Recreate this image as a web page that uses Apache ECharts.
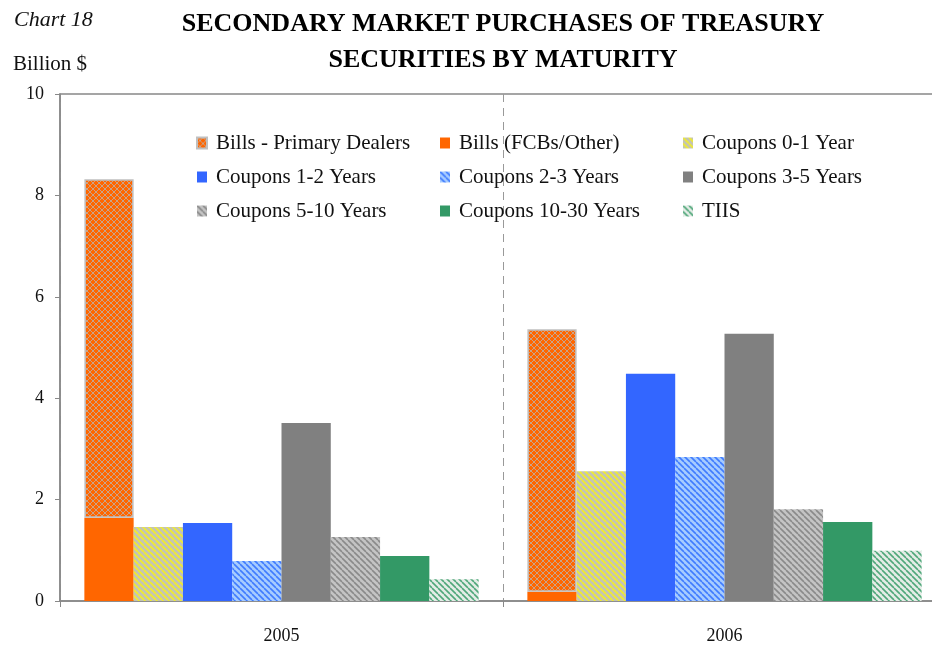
<!DOCTYPE html>
<html>
<head>
<meta charset="utf-8">
<script src="https://cdn.jsdelivr.net/npm/echarts@6/dist/echarts.min.js"></script>
<style>
  html, body { margin: 0; padding: 0; background: #fff; }
  #main { width: 932px; height: 648px; }
</style>
</head>
<body>
<div id="main"></div>
<script>
// categories and values (billion $)
const years = ['2005', '2006'];
const billsOther = [1.64, 0.18];
const billsDealers = [6.68, 5.18];
const coupons0to1 = [1.46, 2.56];
const coupons1to2 = [1.54, 4.48];
const coupons2to3 = [0.79, 2.84];
const coupons3to5 = [3.51, 5.27];
const coupons5to10 = [1.26, 1.81];
const coupons10to30 = [0.89, 1.56];
const tiis = [0.43, 0.99];

const FONT = '"Liberation Serif", "DejaVu Serif", serif';

// small repeating fills for the hatched bars
function stripes(bg, fg, size, lw) {
  const c = document.createElement('canvas');
  c.width = c.height = size;
  const ctx = c.getContext('2d');
  ctx.fillStyle = bg;
  ctx.fillRect(0, 0, size, size);
  ctx.strokeStyle = fg;
  ctx.lineWidth = lw;
  for (const o of [-size, 0, size]) {
    ctx.beginPath();
    ctx.moveTo(o, 0);
    ctx.lineTo(o + size, size);
    ctx.stroke();
  }
  return { image: c, repeat: 'repeat' };
}

function crossHatch(bg, fg, size) {
  const c = document.createElement('canvas');
  c.width = c.height = size;
  const ctx = c.getContext('2d');
  ctx.fillStyle = bg;
  ctx.fillRect(0, 0, size, size);
  ctx.strokeStyle = fg;
  ctx.lineWidth = 1;
  for (const o of [-size, 0, size]) {
    ctx.beginPath(); ctx.moveTo(o, 0); ctx.lineTo(o + size, size); ctx.stroke();
    ctx.beginPath(); ctx.moveTo(o, size); ctx.lineTo(o + size, 0); ctx.stroke();
  }
  return { image: c, repeat: 'repeat' };
}

const legendText = { fontFamily: FONT, fontSize: 21, color: '#111', lineHeight: 22, padding: [0, 0, 0, 4] };
function columnLegend(left, names) {
  return {
    left: left, top: 132, orient: 'vertical', padding: 0,
    itemWidth: 10, itemHeight: 11, itemGap: 12,
    icon: 'rect', selectedMode: false,
    textStyle: legendText, data: names
  };
}

var myChart = echarts.init(document.getElementById('main'));
myChart.setOption({
  animation: false,
  title: [
    {
      text: 'SECONDARY MARKET PURCHASES OF TREASURY\nSECURITIES BY MATURITY',
      left: 498, top: 1, textAlign: 'center',
      textStyle: { fontFamily: FONT, fontSize: 26, fontWeight: 'bold', color: '#000', lineHeight: 36 }
    },
    {
      text: 'Chart 18', left: 9, top: 4,
      textStyle: { fontFamily: FONT, fontSize: 22, fontStyle: 'italic', fontWeight: 'normal', color: '#111' }
    },
    {
      text: 'Billion $', left: 8, top: 49,
      textStyle: { fontFamily: FONT, fontSize: 21, fontWeight: 'normal', color: '#111' }
    }
  ],
  legend: [
    columnLegend(196, ['Bills - Primary Dealers', 'Coupons 1-2 Years', 'Coupons 5-10 Years']),
    columnLegend(440, ['Bills (FCBs/Other)', 'Coupons 2-3 Years', 'Coupons 10-30 Years']),
    columnLegend(683, ['Coupons 0-1 Year', 'Coupons 3-5 Years', 'TIIS'])
  ],
  grid: {
    left: 60, top: 94, bottom: 47, width: 886,
    outerBoundsMode: 'none',
    show: true, borderColor: '#888', borderWidth: 1.5
  },
  xAxis: {
    type: 'category',
    data: years,
    axisLine: { lineStyle: { color: '#888', width: 1.5 } },
    axisTick: { show: true, length: 6, lineStyle: { color: '#888' } },
    axisLabel: { fontFamily: FONT, fontSize: 18, color: '#111', margin: 26 },
    splitLine: { show: true, lineStyle: { color: '#999', type: [8, 6], width: 1 } }
  },
  yAxis: {
    type: 'value',
    min: 0, max: 10, interval: 2,
    axisLine: { show: true, lineStyle: { color: '#888', width: 1.5 } },
    axisTick: { show: true, length: 5, lineStyle: { color: '#888' } },
    axisLabel: { fontFamily: FONT, fontSize: 18, color: '#111', margin: 16 },
    splitLine: { show: false }
  },
  series: [
    {
      name: 'Bills (FCBs/Other)', type: 'bar', stack: 'bills', data: billsOther,
      barGap: 0, barCategoryGap: '11%',
      itemStyle: { color: '#FF6600' }
    },
    {
      name: 'Bills - Primary Dealers', type: 'bar', stack: 'bills', data: billsDealers,
      itemStyle: { color: crossHatch('#FF6600', '#c9a38a', 6), borderColor: '#c0c0c0', borderWidth: 1.5 }
    },
    {
      name: 'Coupons 0-1 Year', type: 'bar', data: coupons0to1,
      itemStyle: { color: stripes('#c4c4b4', '#f2ee2a', 6, 1.6) }
    },
    {
      name: 'Coupons 1-2 Years', type: 'bar', data: coupons1to2,
      itemStyle: { color: '#3366FF' }
    },
    {
      name: 'Coupons 2-3 Years', type: 'bar', data: coupons2to3,
      itemStyle: { color: stripes('#a6ccff', '#3f7bff', 6, 1.6) }
    },
    {
      name: 'Coupons 3-5 Years', type: 'bar', data: coupons3to5,
      itemStyle: { color: '#808080' }
    },
    {
      name: 'Coupons 5-10 Years', type: 'bar', data: coupons5to10,
      itemStyle: { color: stripes('#c4c4c4', '#8a8a8a', 6, 1.6) }
    },
    {
      name: 'Coupons 10-30 Years', type: 'bar', data: coupons10to30,
      itemStyle: { color: '#339966' }
    },
    {
      name: 'TIIS', type: 'bar', data: tiis,
      itemStyle: { color: stripes('#e4ece6', '#4fa77a', 6, 1.6) }
    }
  ]
});
</script>
</body>
</html>
